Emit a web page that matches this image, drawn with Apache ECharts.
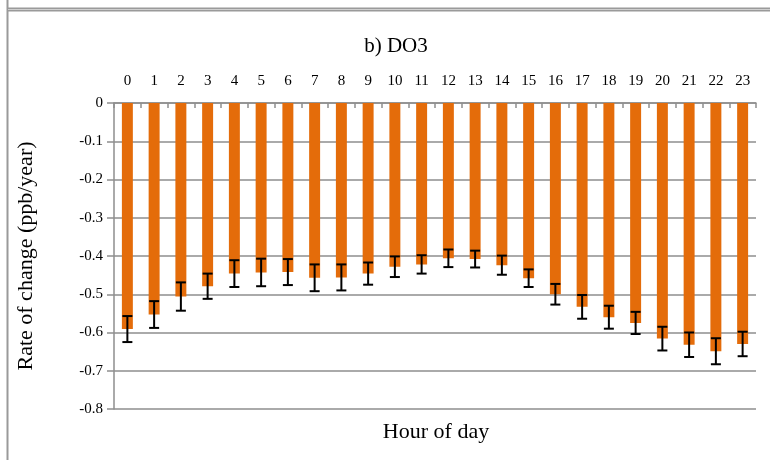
<!DOCTYPE html>
<html>
<head>
<meta charset="utf-8">
<script src="https://cdn.jsdelivr.net/npm/echarts@6/dist/echarts.min.js"></script>
<style>
  html, body { margin: 0; padding: 0; background: #fff; }
  #chart { width: 770px; height: 460px; }
</style>
</head>
<body>
<div id="chart"></div>
<script>
// Hour-of-day categories
var hours = ['0','1','2','3','4','5','6','7','8','9','10','11','12','13','14','15','16','17','18','19','20','21','22','23'];
// Rate of change of DO3 per hour (ppb/year)
var rates = [-0.591,-0.553,-0.506,-0.479,-0.446,-0.443,-0.442,-0.457,-0.456,-0.446,-0.428,-0.422,
             -0.406,-0.408,-0.424,-0.458,-0.500,-0.533,-0.560,-0.575,-0.616,-0.632,-0.649,-0.630];
// Half-width of the uncertainty range for each hour
var errors = [0.034,0.035,0.037,0.033,0.035,0.036,0.034,0.035,0.034,0.029,0.027,0.024,
              0.023,0.022,0.025,0.023,0.027,0.031,0.030,0.029,0.031,0.032,0.034,0.032];
// Value-axis tick settings
var yMin = -0.8, yMax = 0, yStep = 0.1;

var FONT = '"Liberation Serif", "Times New Roman", serif';
var GRID_COLOR = '#8e8e8e';

var errorData = hours.map(function (h, i) {
  return [i, rates[i] - errors[i], rates[i] + errors[i]];
});

var chart = echarts.init(document.getElementById('chart'), null, { renderer: 'canvas' });

chart.setOption({
  animation: false,
  backgroundColor: '#ffffff',
  title: [
    {
      text: 'b) DO3',
      left: 391, top: 31, textAlign: 'center',
      textStyle: { fontFamily: FONT, fontSize: 21, fontWeight: 'normal', color: '#000' }
    },
    {
      text: 'Hour of day',
      left: 431, top: 416, textAlign: 'center',
      textStyle: { fontFamily: FONT, fontSize: 22, fontWeight: 'normal', color: '#000' }
    }
  ],
  grid: { left: 114, right: 14, top: 103, bottom: 51, containLabel: false },
  xAxis: {
    type: 'category',
    data: hours,
    position: 'top',
    axisLine: { show: true, lineStyle: { color: GRID_COLOR, width: 1.5 } },
    axisTick: { show: true, inside: true, length: 5, alignWithLabel: false, lineStyle: { color: GRID_COLOR, width: 1.5 } },
    axisLabel: { margin: 14, fontFamily: FONT, fontSize: 15, color: '#000' },
    splitLine: { show: false }
  },
  yAxis: {
    type: 'value',
    min: yMin, max: yMax, interval: yStep,
    name: 'Rate of change (ppb/year)',
    nameLocation: 'middle',
    nameGap: 77,
    nameTextStyle: { fontFamily: FONT, fontSize: 22, color: '#000' },
    axisLine: { show: true, lineStyle: { color: GRID_COLOR, width: 1.5 } },
    axisTick: { show: true, length: 7, lineStyle: { color: GRID_COLOR, width: 1.5 } },
    axisLabel: {
      margin: 11, fontFamily: FONT, fontSize: 15, color: '#000',
      formatter: function (v) { return v === 0 ? '0' : v.toFixed(1); }
    },
    splitLine: { show: true, lineStyle: { color: GRID_COLOR, width: 1.5 } }
  },
  series: [
    {
      type: 'bar',
      data: rates,
      barWidth: '41%',
      itemStyle: { color: '#E46C0A' }
    },
    {
      type: 'custom',
      data: errorData,
      z: 10,
      renderItem: function (params, api) {
        var x = api.value(0);
        var lo = api.coord([x, api.value(1)]);
        var hi = api.coord([x, api.value(2)]);
        var half = 5;
        var style = { stroke: '#000', lineWidth: 2 };
        return {
          type: 'group',
          children: [
            { type: 'line', shape: { x1: lo[0], y1: lo[1], x2: hi[0], y2: hi[1] }, style: style },
            { type: 'line', shape: { x1: lo[0] - half, y1: lo[1], x2: lo[0] + half, y2: lo[1] }, style: style },
            { type: 'line', shape: { x1: hi[0] - half, y1: hi[1], x2: hi[0] + half, y2: hi[1] }, style: style }
          ]
        };
      }
    }
  ],
  graphic: [
    // panel frame: left edge and top separator
    { type: 'line', shape: { x1: 7.5, y1: 0, x2: 7.5, y2: 460 }, style: { stroke: '#9a9a9a', lineWidth: 2 } },
    { type: 'line', shape: { x1: 7, y1: 9.5, x2: 770, y2: 9.5 }, style: { stroke: '#9a9a9a', lineWidth: 4 } },
    { type: 'line', shape: { x1: 8, y1: 9.5, x2: 770, y2: 9.5 }, style: { stroke: '#cfcfcf', lineWidth: 1 } }
  ]
});
</script>
</body>
</html>
